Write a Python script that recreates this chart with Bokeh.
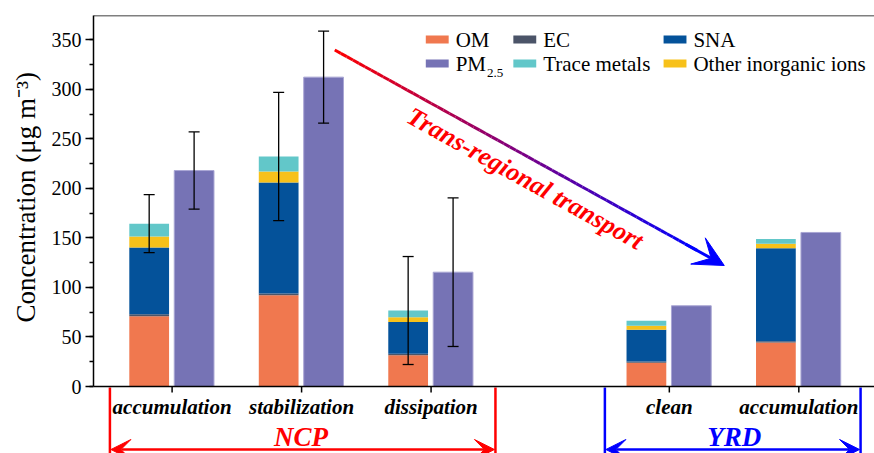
from bokeh.plotting import figure
from bokeh.models import (ColumnDataSource, Whisker, TeeHead, Arrow, VeeHead, Label, Title,
                          Range1d, SingleIntervalTicker, Span, BoxAnnotation)
from bokeh.transform import dodge
from bokeh.core.properties import value
from bokeh.embed import file_html
from bokeh.resources import INLINE

# ---------------- data ----------------
stages = ["accumulation", "stabilization", "dissipation", "clean", "accumulation"]
regions = ["NCP", "NCP", "NCP", "YRD", "YRD"]
x_pos = [1, 2, 3, 4.84, 5.84]
om = [71, 92, 31.5, 24, 44.5]
ec = [2, 2, 1.5, 1.2, 1.2]
sna = [67.4, 112, 32, 32, 93.9]
other_ions = [11, 11, 5, 4.1, 4.4]
trace_metals = [13, 15.2, 6.7, 5, 5]
pm25 = [218, 312.3, 115.4, 81.5, 155.5]
comp_sd = [29.3, 64.8, 54.5, 0, 0]     # 0 = no error bar
pm25_sd = [39, 46.5, 75, 0, 0]
y_tick_interval = 50
y_label = "Concentration (μg m⁻³)"

# ---------------- style / layout ----------------
FONT = "Liberation Serif"
C_OM, C_EC, C_SNA = "#F0784F", "#4B5468", "#04529A"
C_OTHER, C_TM, C_PM = "#F7C11A", "#62C7C9", "#7673B5"
RED, BLUE = "#FF0000", "#0000FF"

W, H = 874, 453
ML, MT = 89, 15            # frame left / top (px)
AXIS_PY = 386              # pixel row of y = 0
X_START, PX_PER_X = 0.393, 130.15
PX_PER_Y = 0.9906
X_END = X_START + (W - ML) / PX_PER_X
Y_END = (AXIS_PY - MT) / PX_PER_Y
Y_MIN = -(H - AXIS_PY) / PX_PER_Y
OFF_L, OFF_R, BAR_W = -0.177, 0.170, 0.307
BASE_SHIFT = 0.32          # empirical baseline correction (em)
LEG_FS = 21


def dx(px):
    return X_START + (px - ML) / PX_PER_X


def dy(py):
    return (AXIS_PY - py) / PX_PER_Y


def dy_base(py, fs):
    """data y for an alphabetic baseline at page row py for a font of fs px"""
    return dy(py - BASE_SHIFT * fs)


p = figure(width=W, height=H, output_backend="svg", toolbar_location=None,
           x_range=Range1d(X_START, X_END), y_range=Range1d(Y_MIN, Y_END),
           x_axis_location=None,
           min_border_left=ML, min_border_right=0, min_border_top=MT, min_border_bottom=0)
p.outline_line_color = None
p.grid.visible = False
p.background_fill_color = "white"
p.border_fill_color = "white"

src = ColumnDataSource(dict(x=x_pos, OM=om, EC=ec, SNA=sna, Other=other_ions,
                            TM=trace_metals, PM=pm25))
p.vbar_stack(["OM", "EC", "SNA", "Other", "TM"], x=dodge("x", OFF_L, range=p.x_range),
             width=BAR_W, source=src, color=[C_OM, C_EC, C_SNA, C_OTHER, C_TM],
             line_color=None)
p.vbar(x=dodge("x", OFF_R, range=p.x_range), top="PM", width=BAR_W, source=src,
       fill_color=C_PM, line_color="#A9A6D4", line_width=1)

# error bars
tot = [a + b + c + d + e for a, b, c, d, e in zip(om, ec, sna, other_ions, trace_metals)]
eb_x, eb_lo, eb_hi = [], [], []
for i in range(len(x_pos)):
    if comp_sd[i] > 0:
        eb_x.append(x_pos[i] + OFF_L); eb_lo.append(tot[i] - comp_sd[i]); eb_hi.append(tot[i] + comp_sd[i])
    if pm25_sd[i] > 0:
        eb_x.append(x_pos[i] + OFF_R); eb_lo.append(pm25[i] - pm25_sd[i]); eb_hi.append(pm25[i] + pm25_sd[i])
esrc = ColumnDataSource(dict(base=eb_x, lower=eb_lo, upper=eb_hi))
p.add_layout(Whisker(source=esrc, base="base", lower="lower", upper="upper", level="annotation",
                     line_color="black", line_width=1.3,
                     upper_head=TeeHead(size=11, line_width=1.3, line_color="black"),
                     lower_head=TeeHead(size=11, line_width=1.3, line_color="black")))

# y axis (real axis, bounded to the positive part)
ya = p.yaxis[0]
ya.bounds = (0, Y_END)
ya.ticker = SingleIntervalTicker(interval=y_tick_interval, num_minor_ticks=2)
ya.major_label_text_font = FONT
ya.major_label_text_font_size = "20px"
ya.major_label_text_color = "black"
ya.major_label_standoff = 4
ya.major_tick_out = 8
ya.major_tick_in = 0
ya.minor_tick_out = 4
ya.minor_tick_in = 0
ya.axis_line_width = 1.5
ya.major_tick_line_width = 1.5
ya.minor_tick_line_width = 1.5
ya.axis_line_color = "black"
p.add_layout(Title(text=y_label, align="left", offset=131, text_font=FONT,
                   text_font_style="normal", text_font_size="27px", text_color="black",
                   standoff=16), "left")

# x axis drawn at y = 0 inside the extended frame
p.add_layout(Span(location=0, dimension="width", line_color="black", line_width=1.5))
p.add_layout(Span(location=Y_END, dimension="width", line_color="black", line_width=1.5))
TICK_LEN = 6 / PX_PER_Y
p.segment(x0=x_pos, y0=[0] * len(x_pos), x1=x_pos, y1=[-TICK_LEN] * len(x_pos),
          line_color="black", line_width=1.5)
p.text(x=x_pos, y=[dy_base(413, 21)] * len(x_pos), text=stages, text_font=value(FONT),
       text_font_style="bold italic", text_font_size="21px", text_color="black",
       text_align="center", text_baseline="alphabetic")

# legend (manual)
leg = [("OM", C_OM, 0, 0), ("EC", C_EC, 1, 0), ("SNA", C_SNA, 2, 0),
       ("PM", C_PM, 0, 1), ("Trace metals", C_TM, 1, 1), ("Other inorganic ions", C_OTHER, 2, 1)]
LEG_COL_X = [423, 511, 662]
LEG_ROW_Y = [39, 63]
for text, col, c, r in leg:
    x0 = LEG_COL_X[c]
    yc = LEG_ROW_Y[r]
    p.add_layout(BoxAnnotation(left=dx(x0), right=dx(x0 + 23), bottom=dy(yc + 4), top=dy(yc - 4),
                               fill_color=col, fill_alpha=1, line_color=None))
    p.add_layout(Label(x=dx(x0 + 30), y=dy_base(yc + 7.5, LEG_FS), text=text, text_font=FONT,
                       text_font_size="%dpx" % LEG_FS, text_color="black",
                       text_baseline="alphabetic"))
p.add_layout(Label(x=dx(484.5), y=dy_base(76.5, 13), text="2.5", text_font=FONT,
                   text_font_size="13px", text_color="black", text_baseline="alphabetic"))

# trans-regional transport arrow with gradient
AX0, AY0, AX1, AY1 = 331.5, 49.5, 723, 265
N = 60
xs0, ys0, xs1, ys1, cols = [], [], [], [], []
for i in range(N):
    t0, t1 = i / N, (i + 1) / N
    px0, py0 = AX0 + (AX1 - AX0) * t0 * 0.93, AY0 + (AY1 - AY0) * t0 * 0.93
    px1, py1 = AX0 + (AX1 - AX0) * t1 * 0.93, AY0 + (AY1 - AY0) * t1 * 0.93
    xs0.append(dx(px0)); ys0.append(dy(py0)); xs1.append(dx(px1)); ys1.append(dy(py1))
    tm = (t0 + t1) / 2
    cols.append("#%02X%02X%02X" % (int(255 * (1 - tm)), 0, int(255 * tm)))
p.segment(xs0, ys0, xs1, ys1, line_color=cols, line_width=3)
p.add_layout(Arrow(x_start=dx(AX0 + (AX1 - AX0) * 0.9), y_start=dy(AY0 + (AY1 - AY0) * 0.9),
                   x_end=dx(AX1), y_end=dy(AY1), line_color=BLUE, line_width=3,
                   end=VeeHead(size=30, fill_color=BLUE, line_color=BLUE)))
p.add_layout(Label(x=dx(523), y=dy(178), text="Trans-regional transport", text_font=FONT,
                   text_font_style="bold italic", text_font_size="26px", text_color=RED,
                   text_align="center", text_baseline="middle", angle=-0.506))

# region brackets below the axis
BR = [("NCP", RED, 105.5, 493, 297.5), ("YRD", BLUE, 603, 860, 733)]
for name, col, xl, xr, xc in BR:
    p.segment(x0=[dx(xl), dx(xr)], y0=[dy(387)] * 2, x1=[dx(xl), dx(xr)], y1=[Y_MIN] * 2,
              line_color=col, line_width=2.5)
    p.add_layout(Arrow(x_start=dx(xl + 1), y_start=dy(449), x_end=dx(xr - 1), y_end=dy(449),
                       line_color=col, line_width=2.5,
                       start=VeeHead(size=20, fill_color=col, line_color=col),
                       end=VeeHead(size=20, fill_color=col, line_color=col)))
    p.add_layout(Label(x=dx(xc), y=dy_base(445, 27), text=name, text_font=FONT,
                       text_font_style="bold italic", text_font_size="27px", text_color=col,
                       text_align="center", text_baseline="alphabetic"))

open("out.html", "w").write(file_html(p, INLINE))
